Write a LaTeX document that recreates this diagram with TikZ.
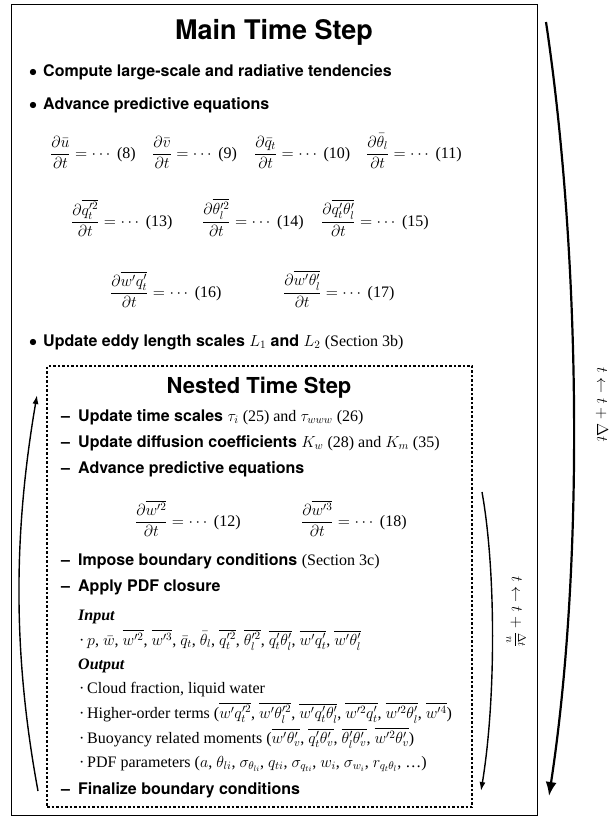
\RequirePackage{fix-cm}
\documentclass[tikz,border=0pt]{standalone}
\usepackage{amsmath}
\usepackage{fontspec}
\setmainfont{Liberation Serif}
\setsansfont{TeX Gyre Heros}
\usetikzlibrary{arrows.meta}
\newcommand{\bulmark}{\makebox[14pt][l]{$\bullet$}}
\newcommand{\dashmark}{\makebox[17pt][l]{--}}
\newcommand{\itemdot}{\makebox[8pt][l]{\textperiodcentered}}
\begin{document}
\begin{tikzpicture}[x=1pt, y=-1pt,
  frame/.style = {draw, line width=1pt, inner sep=0pt},
  nestframe/.style = {draw, line width=1.1pt, dash pattern=on 2.5pt off 2pt, inner sep=0pt},
  head/.style = {anchor=base, font=\fontsize{27}{30}\selectfont\sffamily\bfseries},
  subhead/.style = {anchor=base, font=\fontsize{22}{26}\selectfont\sffamily\bfseries},
  item/.style = {anchor=base west, inner sep=0pt, font=\fontsize{16}{19}\selectfont\sffamily\bfseries},
  eqn/.style = {anchor=base west, inner sep=0pt, font=\fontsize{16}{19}\selectfont},
  io/.style = {eqn, font=\fontsize{16}{19}\selectfont\bfseries\itshape},
  steplabel/.style = {rotate=-90, font=\fontsize{16}{19}\selectfont},
  flow/.style = {line width=1.4pt, -{Latex[length=9pt, width=6pt]}},
  bigflow/.style = {line width=2.2pt, -{Latex[length=14pt, width=11pt]}}]
\useasboundingbox (0,0) rectangle (613,816);
\node[frame, minimum width=526, minimum height=810] (main) at (274,410) {};
\node[nestframe, minimum width=425, minimum height=441] (nest) at (259.5,586.5) {};

\node[head] (title) at (274,40) {Main Time Step};
\node[item] (compute) at (29,76) {\bulmark Compute large-scale and radiative tendencies};
\node[item] (advance) at (29,109) {\bulmark Advance predictive equations};
\node[eqn] (ubar) at (50,158) {$\dfrac{\partial\bar u}{\partial t}=\cdots$ (8)};
\node[eqn] (vbar) at (152,158) {$\dfrac{\partial\bar v}{\partial t}=\cdots$ (9)};
\node[eqn] (qbar) at (254,158) {$\dfrac{\partial\bar q_t}{\partial t}=\cdots$ (10)};
\node[eqn] (thbar) at (366,158) {$\dfrac{\partial\bar\theta_l}{\partial t}=\cdots$ (11)};
\node[eqn] (qvar) at (71,226) {$\dfrac{\partial\overline{q_t'^2}}{\partial t}=\cdots$ (13)};
\node[eqn] (thvar) at (202,226) {$\dfrac{\partial\overline{\theta_l'^2}}{\partial t}=\cdots$ (14)};
\node[eqn] (qthcov) at (321,226) {$\dfrac{\partial\overline{q_t'\theta_l'}}{\partial t}=\cdots$ (15)};
\node[eqn] (wqflux) at (110,297) {$\dfrac{\partial\overline{w'q_t'}}{\partial t}=\cdots$ (16)};
\node[eqn] (wthflux) at (283,297) {$\dfrac{\partial\overline{w'\theta_l'}}{\partial t}=\cdots$ (17)};
\node[item] (eddy) at (29,346) {\bulmark Update eddy length scales $L_1$ and $L_2$ \textnormal{(Section 3b)}};

\node[subhead] (ntitle) at (259,393) {Nested Time Step};
\node[item] (tscale) at (61,421) {\dashmark Update time scales \textnormal{$\tau_i$ (25) and $\tau_{www}$ (26)}};
\node[item] (diffco) at (61,447) {\dashmark Update diffusion coefficients \textnormal{$K_w$ (28) and $K_m$ (35)}};
\node[item] (nadvance) at (61,473) {\dashmark Advance predictive equations};
\node[eqn] (wtwo) at (135,526) {$\dfrac{\partial\overline{w'^2}}{\partial t}=\cdots$ (12)};
\node[eqn] (wthree) at (301,526) {$\dfrac{\partial\overline{w'^3}}{\partial t}=\cdots$ (18)};
\node[item] (impose) at (61,565) {\dashmark Impose boundary conditions \textnormal{(Section 3c)}};
\node[item] (apply) at (61,591) {\dashmark Apply PDF closure};
\node[io] (input) at (78,620) {Input};
\node[eqn] (inlist) at (79,645) {\itemdot$p$, $\bar w$, $\overline{w'^2}$, $\overline{w'^3}$, $\bar q_t$, $\bar\theta_l$, $\overline{q_t'^2}$, $\overline{\theta_l'^2}$, $\overline{q_t'\theta_l'}$, $\overline{w'q_t'}$, $\overline{w'\theta_l'}$};
\node[io] (output) at (78,669) {Output};
\node[eqn] (cloud) at (79,693) {\itemdot Cloud fraction, liquid water};
\node[eqn] (higher) at (79,718) {\itemdot Higher-order terms ($\overline{w'q_t'^2}$, $\overline{w'\theta_l'^2}$, $\overline{w'q_t'\theta_l'}$, $\overline{w'^2q_t'}$, $\overline{w'^2\theta_l'}$, $\overline{w'^4}$)};
\node[eqn] (buoy) at (79,743) {\itemdot Buoyancy related moments ($\overline{w'\theta_v'}$, $\overline{q_t'\theta_v'}$, $\overline{\theta_l'\theta_v'}$, $\overline{w'^2\theta_v'}$)};
\node[eqn] (pdfpar) at (79,767) {\itemdot PDF parameters ($a$, $\theta_{li}$, $\sigma_{\theta_{li}}$, $q_{ti}$, $\sigma_{q_{ti}}$, $w_i$, $\sigma_{w_i}$, $r_{q_t\theta_l}$, \ldots)};
\node[item] (final) at (61,794) {\dashmark Finalize boundary conditions};

\node[steplabel] (dtn) at (516,612) {$t\leftarrow t+\frac{\Delta t}{n}$};
\node[steplabel] (dt) at (602,405) {$t\leftarrow t+\Delta t$};

\coordinate (lb) at (38,791);
\coordinate (lt) at (37,395);
\coordinate (nt) at (482,492);
\coordinate (nb) at (481,791);
\coordinate (ot) at (546,22);
\coordinate (ob) at (549,796);
\draw[flow] (lb) .. controls (12,650) and (14,530) .. (lt);
\draw[flow] (nt) .. controls (496,570) and (496,700) .. (nb);
\draw[bigflow] (ot) .. controls (580,250) and (585,560) .. (ob);
\end{tikzpicture}
\end{document}
